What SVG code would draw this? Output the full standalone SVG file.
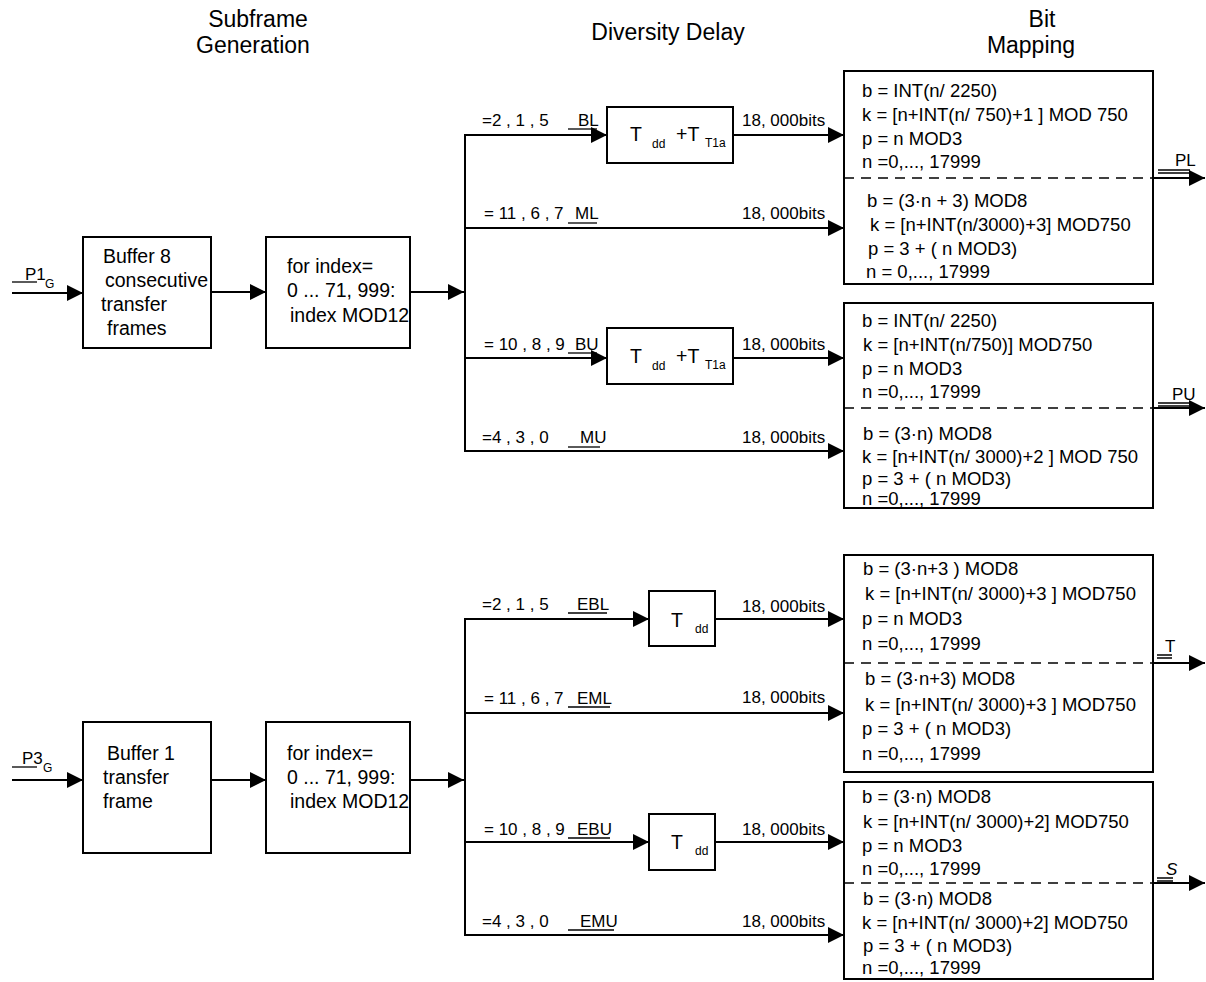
<svg xmlns="http://www.w3.org/2000/svg" width="1206" height="982" viewBox="0 0 1206 982">
<defs>
<marker id="ah" markerWidth="16" markerHeight="16" refX="16" refY="8" orient="auto" markerUnits="userSpaceOnUse"><path d="M0,0 L16,8 L0,16 z" fill="#000"/></marker>
</defs>
<style>
text{font-family:"Liberation Sans",Arial,sans-serif;fill:#000}
.h{font-size:23px}
.t{font-size:19.5px}
.f{font-size:17px}
.m{font-size:18.5px}
.s{font-size:12px}
.box{fill:#fff;stroke:#000;stroke-width:2}
.c{fill:none;stroke:#000;stroke-width:2}
.a{fill:none;stroke:#000;stroke-width:2;marker-end:url(#ah)}
.d{fill:none;stroke:#000;stroke-width:1.5;stroke-dasharray:10 7}
.u{fill:none;stroke:#000;stroke-width:1.3}
</style>
<rect width="1206" height="982" fill="#fff"/>

<g id="headers">
<text class="h" x="258" y="27" text-anchor="middle">Subframe</text>
<text class="h" x="253" y="53" text-anchor="middle">Generation</text>
<text class="h" x="668" y="40" text-anchor="middle">Diversity Delay</text>
<text class="h" x="1042" y="27" text-anchor="middle">Bit</text>
<text class="h" x="1031" y="53" text-anchor="middle">Mapping</text>
</g>

<g id="connectors">
<path class="a" d="M12,293 H83"/>
<path class="a" d="M211,292 H266"/>
<path class="a" d="M410,292 H464"/>
<path class="c" d="M465,134 V452"/>
<path class="a" d="M464,135 H607"/>
<path class="a" d="M733,135 H844"/>
<path class="a" d="M464,228 H844"/>
<path class="a" d="M464,358 H607"/>
<path class="a" d="M733,358 H844"/>
<path class="a" d="M464,451 H844"/>
<path class="a" d="M1153,178 H1205"/>
<path class="a" d="M1153,408 H1205"/>

<path class="a" d="M12,780 H83"/>
<path class="a" d="M211,780 H266"/>
<path class="a" d="M410,780 H464"/>
<path class="c" d="M465,618 V936"/>
<path class="a" d="M464,619 H649"/>
<path class="a" d="M715,619 H844"/>
<path class="a" d="M464,713 H844"/>
<path class="a" d="M464,842 H649"/>
<path class="a" d="M715,842 H844"/>
<path class="a" d="M464,935 H844"/>
<path class="a" d="M1153,663 H1205"/>
<path class="a" d="M1153,883 H1205"/>
</g>

<g id="input-p1">
<path class="u" d="M12,282 H37"/>
<text class="f" x="25" y="280">P1</text>
<text class="s" x="45" y="288">G</text>
</g>
<g id="input-p3">
<path class="u" d="M12,767 H37"/>
<text class="f" x="22" y="764">P3</text>
<text class="s" x="43" y="772">G</text>
</g>

<g id="buffer8">
<rect class="box" x="83" y="237" width="128" height="111"/>
<text class="t" x="103" y="263">Buffer 8</text>
<text class="t" x="105" y="287">consecutive</text>
<text class="t" x="101" y="311">transfer</text>
<text class="t" x="107" y="335">frames</text>
</g>
<g id="index-top">
<rect class="box" x="266" y="237" width="144" height="111"/>
<text class="t" x="287" y="273">for index=</text>
<text class="t" x="287" y="297">0 ... 71, 999:</text>
<text class="t" x="290" y="322">index MOD12</text>
</g>

<g id="buffer1">
<rect class="box" x="83" y="722" width="128" height="131"/>
<text class="t" x="107" y="760">Buffer 1</text>
<text class="t" x="103" y="784">transfer</text>
<text class="t" x="103" y="808">frame</text>
</g>
<g id="index-bottom">
<rect class="box" x="266" y="722" width="144" height="131"/>
<text class="t" x="287" y="760">for index=</text>
<text class="t" x="287" y="784">0 ... 71, 999:</text>
<text class="t" x="290" y="808">index MOD12</text>
</g>

<g id="branch-labels">
<text class="f" x="482" y="126">=2 , 1 , 5</text>
<path class="u" d="M568,129 H597"/><text class="f" x="578" y="126">BL</text>
<text class="f" x="484" y="219">= 11 , 6 , 7</text>
<path class="u" d="M568,223 H597"/><text class="f" x="575" y="219">ML</text>
<text class="f" x="484" y="350">= 10 , 8 , 9</text>
<path class="u" d="M568,353 H597"/><text class="f" x="575" y="350">BU</text>
<text class="f" x="482" y="443">=4 , 3 , 0</text>
<path class="u" d="M568,447 H600"/><text class="f" x="580" y="443">MU</text>

<text class="f" x="482" y="610">=2 , 1 , 5</text>
<path class="u" d="M568,613 H607"/><text class="f" x="577" y="610">EBL</text>
<text class="f" x="484" y="704">= 11 , 6 , 7</text>
<path class="u" d="M568,707 H610"/><text class="f" x="577" y="704">EML</text>
<text class="f" x="484" y="835">= 10 , 8 , 9</text>
<path class="u" d="M568,838 H610"/><text class="f" x="577" y="835">EBU</text>
<text class="f" x="482" y="927">=4 , 3 , 0</text>
<path class="u" d="M568,930 H614"/><text class="f" x="580" y="927">EMU</text>

<text class="f" x="742" y="126">18, 000bits</text>
<text class="f" x="742" y="219">18, 000bits</text>
<text class="f" x="742" y="350">18, 000bits</text>
<text class="f" x="742" y="443">18, 000bits</text>
<text class="f" x="742" y="612">18, 000bits</text>
<text class="f" x="742" y="703">18, 000bits</text>
<text class="f" x="742" y="835">18, 000bits</text>
<text class="f" x="742" y="927">18, 000bits</text>
</g>

<g id="delay-bl">
<rect class="box" x="607" y="107" width="126" height="56"/>
<text class="t" x="630" y="141">T</text><text class="s" x="652" y="148">dd</text>
<text class="t" x="676" y="141">+T</text><text class="s" x="705" y="147">T1a</text>
</g>
<g id="delay-bu">
<rect class="box" x="607" y="328" width="126" height="56"/>
<text class="t" x="630" y="363">T</text><text class="s" x="652" y="370">dd</text>
<text class="t" x="676" y="363">+T</text><text class="s" x="705" y="369">T1a</text>
</g>
<g id="delay-ebl">
<rect class="box" x="649" y="591" width="66" height="55"/>
<text class="t" x="671" y="627">T</text><text class="s" x="695" y="633">dd</text>
</g>
<g id="delay-ebu">
<rect class="box" x="649" y="814" width="66" height="56"/>
<text class="t" x="671" y="849">T</text><text class="s" x="695" y="855">dd</text>
</g>

<g id="map-pl">
<rect class="box" x="844" y="71" width="309" height="213"/>
<path class="d" d="M844,178 H1153"/>
<text class="m" x="862" y="97">b = INT(n/ 2250)</text>
<text class="m" x="862" y="121">k = [n+INT(n/ 750)+1 ] MOD 750</text>
<text class="m" x="862" y="145">p = n MOD3</text>
<text class="m" x="862" y="168">n =0,..., 17999</text>
<text class="m" x="867" y="207">b = (3·n + 3) MOD8</text>
<text class="m" x="870" y="231">k = [n+INT(n/3000)+3] MOD750</text>
<text class="m" x="868" y="255">p = 3 + ( n MOD3)</text>
<text class="m" x="866" y="278">n = 0,..., 17999</text>
<path class="u" d="M1158,170 H1190 M1158,173 H1190"/>
<text class="f" x="1175" y="166">PL</text>
</g>

<g id="map-pu">
<rect class="box" x="844" y="303" width="309" height="205"/>
<path class="d" d="M844,408 H1153"/>
<text class="m" x="862" y="327">b = INT(n/ 2250)</text>
<text class="m" x="863" y="351">k = [n+INT(n/750)] MOD750</text>
<text class="m" x="862" y="375">p = n MOD3</text>
<text class="m" x="862" y="398">n =0,..., 17999</text>
<text class="m" x="863" y="440">b = (3·n) MOD8</text>
<text class="m" x="862" y="463">k = [n+INT(n/ 3000)+2 ] MOD 750</text>
<text class="m" x="862" y="485">p = 3 + ( n MOD3)</text>
<text class="m" x="862" y="505">n =0,..., 17999</text>
<path class="u" d="M1158,403 H1193 M1158,406 H1193"/>
<text class="f" x="1172" y="400">PU</text>
</g>

<g id="map-t">
<rect class="box" x="844" y="555" width="309" height="217"/>
<path class="d" d="M844,663 H1153"/>
<text class="m" x="863" y="575">b = (3·n+3 ) MOD8</text>
<text class="m" x="865" y="600">k = [n+INT(n/ 3000)+3 ] MOD750</text>
<text class="m" x="862" y="625">p = n MOD3</text>
<text class="m" x="862" y="650">n =0,..., 17999</text>
<text class="m" x="865" y="685">b = (3·n+3) MOD8</text>
<text class="m" x="865" y="711">k = [n+INT(n/ 3000)+3 ] MOD750</text>
<text class="m" x="862" y="735">p = 3 + ( n MOD3)</text>
<text class="m" x="862" y="760">n =0,..., 17999</text>
<path class="u" d="M1157,655 H1172 M1157,658 H1172"/>
<text class="f" x="1165" y="652">T</text>
</g>

<g id="map-s">
<rect class="box" x="844" y="782" width="309" height="197"/>
<path class="d" d="M844,883 H1153"/>
<text class="m" x="862" y="803">b = (3·n) MOD8</text>
<text class="m" x="863" y="828">k = [n+INT(n/ 3000)+2] MOD750</text>
<text class="m" x="862" y="852">p = n MOD3</text>
<text class="m" x="862" y="875">n =0,..., 17999</text>
<text class="m" x="863" y="905">b = (3·n) MOD8</text>
<text class="m" x="862" y="929">k = [n+INT(n/ 3000)+2] MOD750</text>
<text class="m" x="863" y="952">p = 3 + ( n MOD3)</text>
<text class="m" x="862" y="974">n =0,..., 17999</text>
<path class="u" d="M1157,878 H1173 M1157,881 H1173"/>
<text class="f" x="1166" y="875" font-style="italic">S</text>
</g>
</svg>
